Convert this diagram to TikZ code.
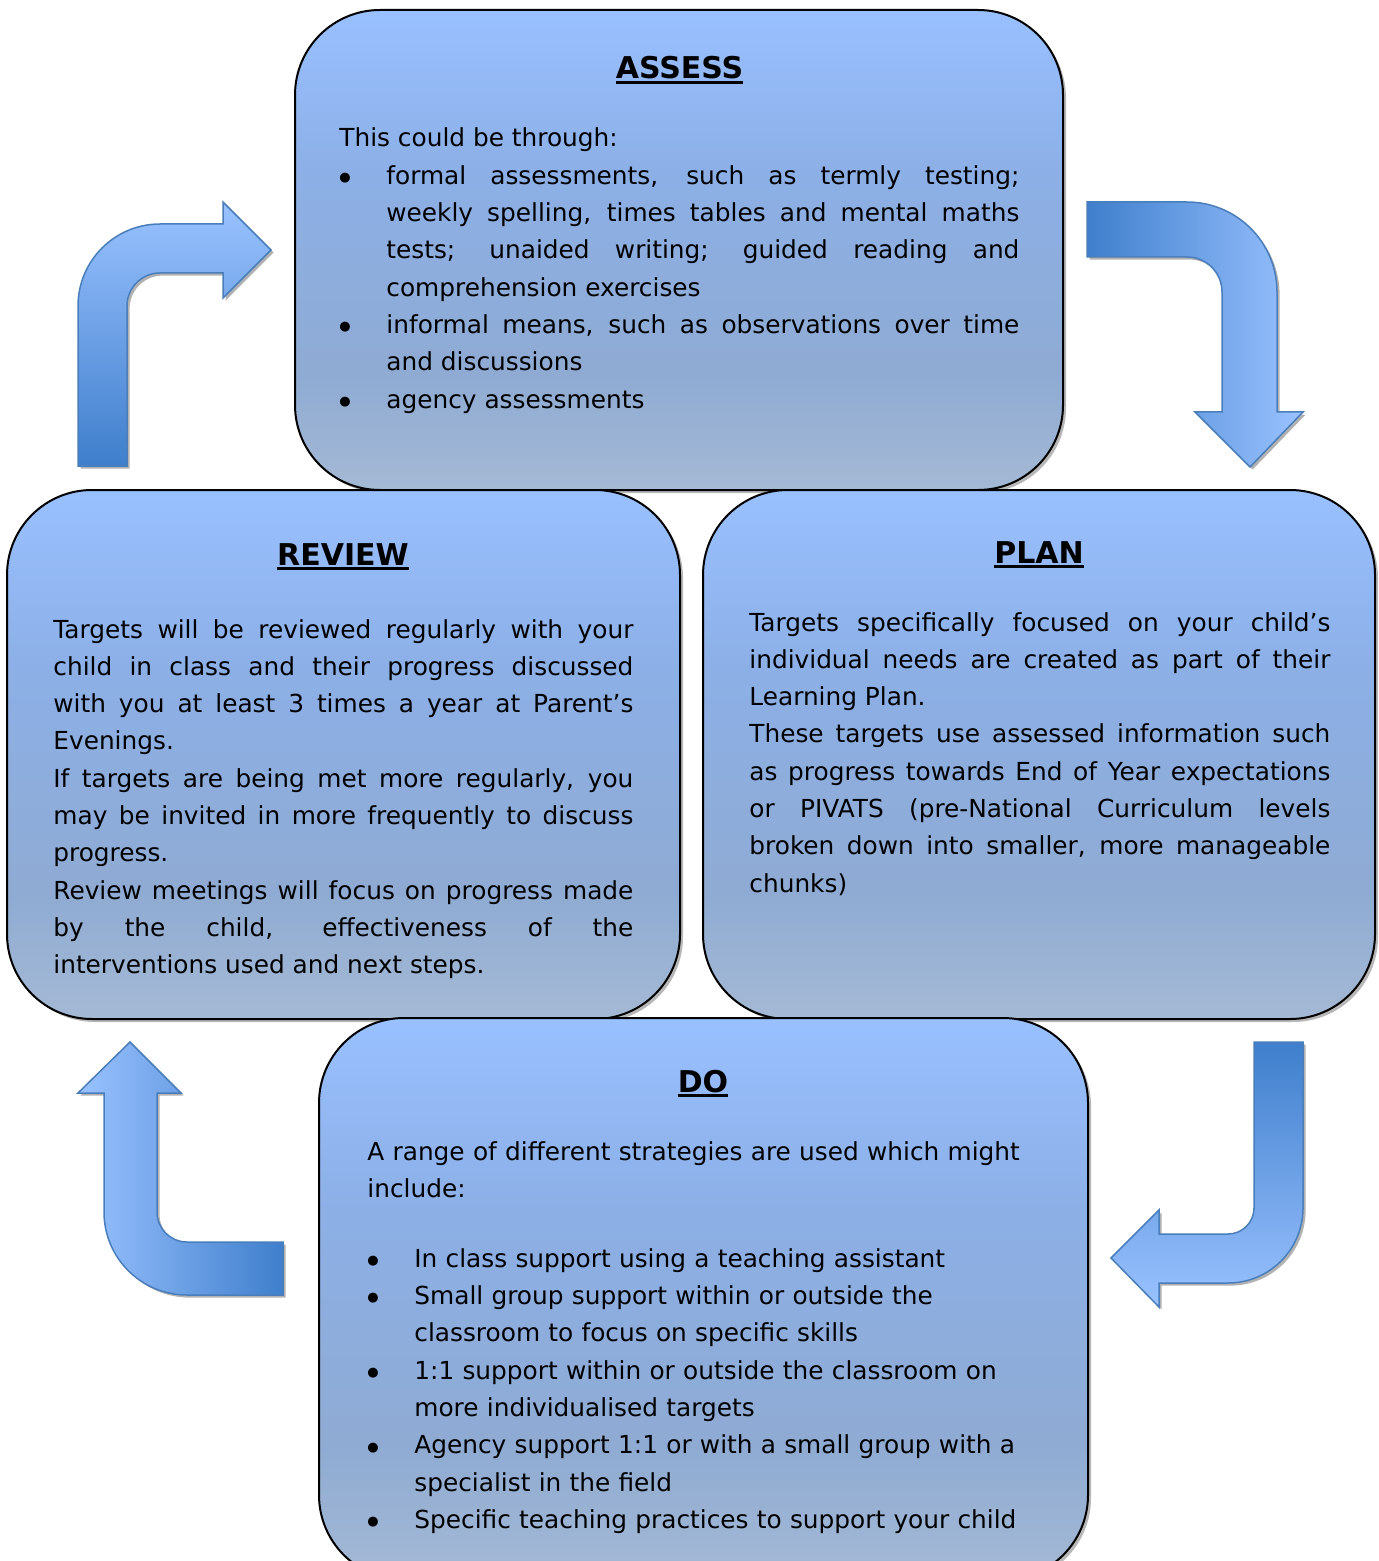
\documentclass[tikz,border=0pt]{standalone}
\usepackage{fontspec}
\setmainfont{DejaVu Sans}
\usetikzlibrary{shadows}

\definecolor{boxtop}{HTML}{99C0FF}
\definecolor{boxmid}{HTML}{8CAFE6}
\definecolor{boxlow}{HTML}{8FABD3}
\definecolor{boxbot}{HTML}{A4B9D4}
\definecolor{arrowdark}{HTML}{3F7FCC}
\definecolor{arrowlight}{HTML}{9AC2FF}
\definecolor{arrowrim}{HTML}{4A7EBB}

\pgfdeclareverticalshading{boxshade}{100bp}{color(0bp)=(boxbot); color(25bp)=(boxbot); color(37bp)=(boxlow); color(58bp)=(boxmid); color(75bp)=(boxtop); color(100bp)=(boxtop)}

\newcommand\headword[1]{\setbox0\hbox{#1}\rlap{\usebox0}\rule[-2.3pt]{\wd0}{1.5pt}}
\newcommand\bitem{\par\noindent\hangindent=23.5pt\hangafter=1\hbox to 23.5pt{\raisebox{1.4pt}{\fontsize{6.5}{6.5}\selectfont ●}\hfil}}

\tikzset{
  stagebox/.style={rectangle,rounded corners=42.5pt,draw=black,line width=1pt,shading=boxshade,inner sep=0pt,
    drop shadow={shadow xshift=1.5pt,shadow yshift=-1.5pt,opacity=.4,fill=black!70}},
  stagetitle/.style={anchor=base,inner sep=0pt,font=\fontsize{15}{18}\selectfont\bfseries},
  stagetext/.style={anchor=base west,inner sep=0pt,font=\fontsize{12.4}{18.65}\selectfont},
  bentarrow/.style={draw=arrowrim,line width=.75pt,
    drop shadow={shadow xshift=1.3pt,shadow yshift=-1.3pt,opacity=.55,fill=black!55}}
}

\tolerance=10000
\hbadness=10000

\begin{document}
\begin{tikzpicture}[x=0.5pt,y=-0.5pt]
\clip (0,0) rectangle (1378,1561);

\draw (679,250) node (assess) [stagebox,minimum width=384pt,minimum height=240pt] {};
\draw (343.5,754.5) node (review) [stagebox,minimum width=336.5pt,minimum height=264.5pt] {};
\draw (1039,754.5) node (plan) [stagebox,minimum width=336pt,minimum height=264.5pt] {};
\draw (703.5,1299) node (do) [stagebox,minimum width=384.5pt,minimum height=281pt] {};

\draw (679.5,79) node (assess title) [stagetitle] {\headword{ASSESS}};
\draw (339,147) node (assess text) [stagetext,text width=340pt,align=justify] {This could be through:
\bitem formal assessments, such as termly testing;\linebreak weekly spelling, times tables and mental maths\linebreak tests; unaided writing; guided reading and\linebreak comprehension exercises
\bitem informal means, such as observations over time\linebreak and discussions
\bitem agency assessments};

\draw (343,565) node (review title) [stagetitle] {\headword{REVIEW}};
\draw (53,638) node (review text) [stagetext,text width=290pt,align=justify] {Targets will be reviewed regularly with your\linebreak child in class and their progress discussed\linebreak with you at least 3 times a year at Parent’s\linebreak Evenings.\par
If targets are being met more regularly, you\linebreak may be invited in more frequently to discuss\linebreak progress.\par
Review meetings will focus on progress made\linebreak by the child, effectiveness of the\linebreak interventions used and next steps.};

\draw (1039,563) node (plan title) [stagetitle] {\headword{PLAN}};
\draw (749,631) node (plan text) [stagetext,text width=290.5pt,align=justify] {Targets specifically focused on your child’s\linebreak individual needs are created as part of their\linebreak Learning Plan.\par
These targets use assessed information such\linebreak as progress towards End of Year expectations\linebreak or PIVATS (pre-National Curriculum levels\linebreak broken down into smaller, more manageable\linebreak chunks)};

\draw (703,1092) node (do title) [stagetitle] {\headword{DO}};
\draw (367,1160) node (do text) [stagetext,text width=360pt,align=left] {A range of different strategies are used which might\newline include:\par\vspace{16.35pt}
\bitem In class support using a teaching assistant
\bitem Small group support within or outside the\newline classroom to focus on specific skills
\bitem 1:1 support within or outside the classroom on\newline more individualised targets
\bitem Agency support 1:1 or with a small group with a\newline specialist in the field
\bitem Specific teaching practices to support your child};

\draw[bentarrow,top color=arrowlight,bottom color=arrowdark] (78,466) -- (78,306) arc[start angle=180,end angle=270,radius=82] -- (223,224) -- (223,202) -- (271,250) -- (223,298) -- (223,273) -- (160,273) arc[start angle=270,end angle=180,radius=33] -- (127,466) -- cycle;
\draw[bentarrow,left color=arrowdark,right color=arrowlight] (1087,202) -- (1187,202) arc[start angle=270,end angle=360,radius=90] -- (1277,412) -- (1303,412) -- (1250,467) -- (1195,412) -- (1222,412) -- (1222,292) arc[start angle=0,end angle=-90,radius=35] -- (1087,257) -- cycle;
\draw[bentarrow,top color=arrowdark,bottom color=arrowlight] (1254,1042) -- (1303,1042) -- (1303,1208) arc[start angle=0,end angle=90,radius=75] -- (1159,1283) -- (1159,1307) -- (1111,1258) -- (1159,1210) -- (1159,1234) -- (1228,1234) arc[start angle=90,end angle=0,radius=26] -- cycle;
\draw[bentarrow,left color=arrowlight,right color=arrowdark] (283,1295) -- (187,1295) arc[start angle=90,end angle=180,radius=83] -- (104,1093) -- (78,1093) -- (130,1042) -- (181,1093) -- (157,1093) -- (157,1212) arc[start angle=180,end angle=90,radius=30] -- (283,1242) -- cycle;
\end{tikzpicture}
\end{document}
